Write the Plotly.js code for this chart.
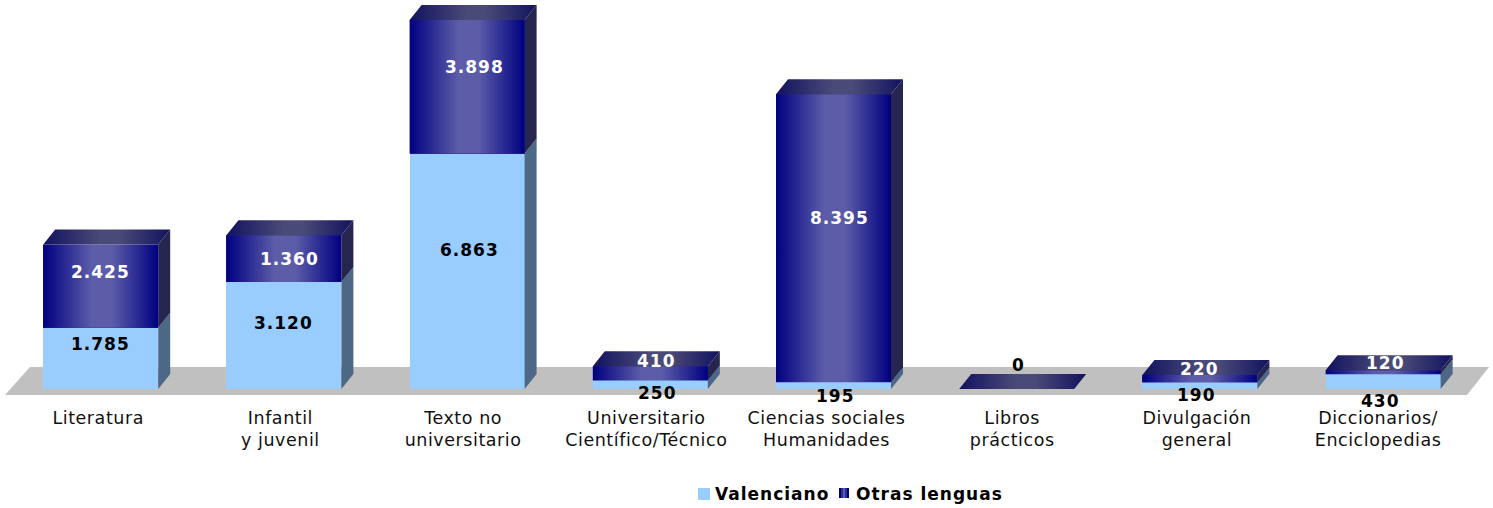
<!DOCTYPE html>
<html><head><meta charset="utf-8">
<script src="https://cdn.plot.ly/plotly-3.0.1.min.js"></script>
<style>
html,body{margin:0;padding:0;background:#fff}
#chart{width:1493px;height:508px}
.xtick text{letter-spacing:.55px}
.annotation-text{letter-spacing:1px}
</style></head><body><div id="chart"></div>
<script>
// ---- data ----
const categories = ["Literatura","Infantil<br>y juvenil","Texto no<br>universitario","Universitario<br>Científico/Técnico","Ciencias sociales<br>Humanidades","Libros<br>prácticos","Divulgación<br>general","Diccionarios/<br>Enciclopedias"];
const valenciano = [1785,3120,6863,250,195,0,190,430];
const otras = [2425,1360,3898,410,8395,0,220,120];
const valencianoLabels = ["1.785","3.120","6.863","250","195","0","190","430"];
const otrasLabels = ["2.425","1.360","3.898","410","8.395","","220","120"];
const seriesNames = ["Valenciano","Otras lenguas"];

// ---- style / geometry constants (pixels) ----
const W=1493,H=508,plotBottom=405,baseY=389,pxPerUnit=0.0343;
const firstCx=100.7,stepPx=183.2,barPx=115,depthX=12,depthY=15;
const valShiftX=[0,0,2,7,2,1.5,-3,-3], valShiftY=[14,12.5,21,-8,-10,24,-9,-19];
const otrShiftX=[0,6,7,6,6,0,0,2], otrShiftY=[14,0,20,12,20,0,10,9];
const tickShift=[-2.5,-3.5,-4,-4,-7,-4.5,-3,-5];

const dx=depthX/stepPx, dy=depthY/pxPerUnit, bw=barPx/stepPx;
const xOf=p=>(p-firstCx)/stepPx, yOf=p=>(baseY-p)/pxPerUnit;
const xs=categories.map((_,i)=>i);

const front=[[0,'#000080'],[0.42,'#5c5ca9'],[0.6,'#5c5ca9'],[1,'#000080']];
const topGrad=[[0,'#12125f'],[0.45,'#4a4a78'],[0.6,'#4a4a78'],[1,'#12125f']];
function poly(px,py,opt){
  return Object.assign({type:'scatter',mode:'lines',x:px,y:py,fill:'toself',line:{width:0},hoverinfo:'skip',showlegend:false},opt);
}
const traces=[
 {type:'bar',name:seriesNames[0],x:xs,y:valenciano,width:bw,marker:{color:'#99ccff',line:{width:0}},hoverinfo:'skip',showlegend:false},
 {type:'bar',name:seriesNames[1],x:xs,y:otras,width:bw,marker:{color:'#2a2a90',line:{width:0}},hoverinfo:'skip',showlegend:false}
];
xs.forEach(i=>{
  const l=i-bw/2,r=i+bw/2,v=valenciano[i],t=v+otras[i];
  if(v>0) traces.push(poly([r,r+dx,r+dx,r,r],[0,dy,v+dy,v,0],{fillcolor:'#4d6787'}));
  if(t>v) traces.push(poly([r,r+dx,r+dx,r,r],[v,v+dy,t+dy,t,v],{fillcolor:'#25254f'}));
  if(t>v) traces.push(poly([l,r,r,l,l],[v,v,t,t,v],{fillgradient:{type:'horizontal',colorscale:front}}));
  traces.push(poly([l,r,r+dx,l+dx,l],[t,t,t+dy,t+dy,t],{fillgradient:{type:'horizontal',colorscale:topGrad}}));
});

const annFont=(c)=>({family:'"DejaVu Sans",sans-serif',size:17,color:c,weight:700});
const annotations=[];
xs.forEach(i=>{
  const v=valenciano[i],o=otras[i];
  annotations.push({x:i,y:v/2,xref:'x',yref:'y',text:valencianoLabels[i],showarrow:false,xshift:valShiftX[i],yshift:valShiftY[i],font:annFont('#000000')});
  if(otrasLabels[i]) annotations.push({x:i,y:v+o/2,xref:'x',yref:'y',text:otrasLabels[i],showarrow:false,xshift:otrShiftX[i],yshift:otrShiftY[i],font:annFont('#ffffff')});
});
// legend, drawn by hand so that swatch and text sit as in the reference
const px=p=>p/W, py=p=>1-p/plotBottom;
annotations.push({xref:'paper',yref:'paper',x:px(713),y:py(494),xanchor:'left',yanchor:'middle',text:seriesNames[0],showarrow:false,font:annFont('#000000')});
annotations.push({xref:'paper',yref:'paper',x:px(854),y:py(494),xanchor:'left',yanchor:'middle',text:seriesNames[1],showarrow:false,font:annFont('#000000')});

const floorPath='M'+xOf(5)+','+yOf(395)+' L'+xOf(30)+','+yOf(367)+' L'+xOf(1489)+','+yOf(367)+' L'+xOf(1467)+','+yOf(395)+' Z';
const shapes=[
 {type:'path',xref:'x',yref:'y',path:floorPath,fillcolor:'#c0c0c0',line:{width:0},layer:'below'},
 {type:'rect',xref:'paper',yref:'paper',x0:px(698),x1:px(710),y0:py(488),y1:py(500),fillcolor:'#99ccff',line:{width:0}}
];
['#000080','#2e2e92','#5c5ca9','#2e2e92','#000080'].forEach((c,k)=>{
  shapes.push({type:'rect',xref:'paper',yref:'paper',x0:px(839+2*k),x1:px(841+2*k),y0:py(488),y1:py(498),fillcolor:c,line:{width:0}});
});

const layout={
  width:W,height:H,margin:{l:0,r:0,t:0,b:H-plotBottom,pad:0},
  paper_bgcolor:'#ffffff',plot_bgcolor:'rgba(0,0,0,0)',barmode:'stack',showlegend:false,
  font:{family:'"DejaVu Sans",sans-serif',color:'#111111'},
  xaxis:{range:[xOf(0),xOf(W)],tickmode:'array',tickvals:xs.map(i=>i+tickShift[i]/stepPx),ticktext:categories,
         tickfont:{size:17.5,color:'#111111'},ticks:'',showgrid:false,zeroline:false,showline:false,fixedrange:true},
  yaxis:{range:[yOf(plotBottom),yOf(0)],visible:false,showgrid:false,zeroline:false,fixedrange:true},
  shapes:shapes,
  annotations:annotations
};
Plotly.newPlot('chart',traces,layout,{displayModeBar:false,staticPlot:true});
</script></body></html>
